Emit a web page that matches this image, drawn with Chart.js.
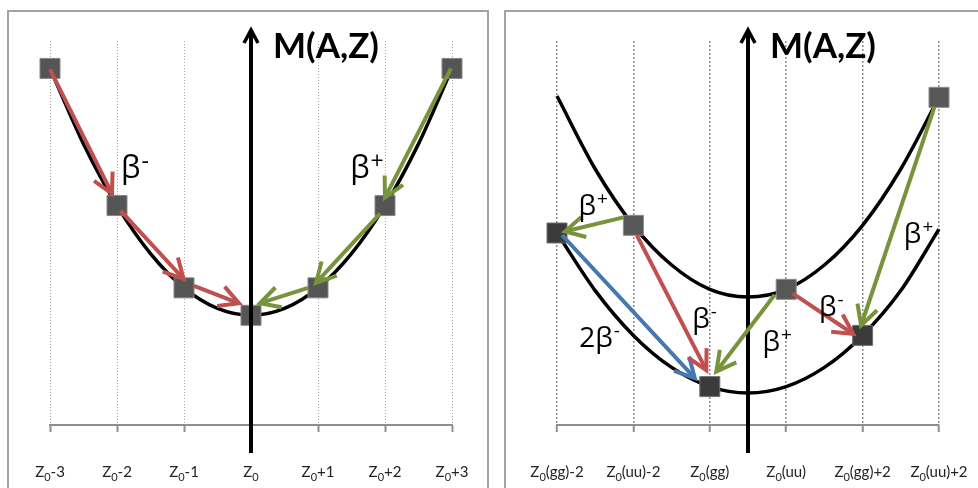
<!DOCTYPE html>
<html>
<head>
<meta charset="utf-8">
<script src="https://cdn.jsdelivr.net/npm/chart.js@4.4.1/dist/chart.umd.min.js"></script>
<style>
  html, body { margin: 0; padding: 0; background: #fff; }
  body { width: 978px; height: 488px; position: relative; overflow: hidden; }
  .frame { position: absolute; top: 10px; height: 520px; border: 2px solid #a3a3a3; border-bottom: none; box-sizing: border-box; }
  #frameL { left: 7px; width: 482px; }
  #frameR { left: 504px; width: 500px; }
  canvas { position: absolute; top: 0; }
  #cL { left: 0; }
  #cR { left: 490px; }
</style>
</head>
<body>
<div class="frame" id="frameL"></div>
<div class="frame" id="frameR"></div>
<canvas id="cL" width="490" height="488"></canvas>
<canvas id="cR" width="488" height="488"></canvas>
<script>
// ---------- Left: odd-A isobars, one mass parabola ----------
const leftZ = [-3, -2, -1, 0, 1, 2, 3];
const leftTickLabels = ['Z₀-3', 'Z₀-2', 'Z₀-1', 'Z₀', 'Z₀+1', 'Z₀+2', 'Z₀+3'];
const leftMass = [9, 4, 1, 0, 1, 4, 9];
const leftCurveZ = [-3, -2.5, -2, -1.5, -1, -0.5, 0, 0.5, 1, 1.5, 2, 2.5, 3];
const leftCurveMass = [9, 6.25, 4, 2.25, 1, 0.25, 0, 0.25, 1, 2.25, 4, 6.25, 9];

// ---------- Right: even-A isobars, gg and uu parabolas ----------
const rightZ = [0, 1, 2, 3, 4, 5];
const rightTickLabels = ['Z₀(gg)-2', 'Z₀(uu)-2', 'Z₀(gg)', 'Z₀(uu)', 'Z₀(gg)+2', 'Z₀(uu)+2'];
const ggZ = [0, 2, 4];
const ggMass = [6.25, 0.25, 2.25];
const uuZ = [1, 3, 5];
const uuMass = [6.55, 4.05, 11.55];
const rightCurveZ = [0, 0.5, 1, 1.5, 2, 2.5, 3, 3.5, 4, 4.5, 5];
const ggCurveMass = [6.25, 4.0, 2.25, 1.0, 0.25, 0, 0.25, 1.0, 2.25, 4.0, 6.4];
const uuCurveMass = [11.6, 8.75, 6.55, 5.0, 4.05, 3.75, 4.05, 5.0, 6.55, 8.75, 11.55];

const RED = '#c0504d', GREEN = '#77933c', BLUE = '#4677b0';

// decay arrows: from / to reference a named point; s / e nudge the ends (px)
const leftArrows = [
  { from: ['p', 0], to: ['p', 1], color: RED,   s: [0, 1],    e: [-5, -12] },
  { from: ['p', 1], to: ['p', 2], color: RED,   s: [3.5, 5],  e: [-0.5, -9] },
  { from: ['p', 2], to: ['p', 3], color: RED,   s: [10, -2],  e: [-12, -12] },
  { from: ['p', 6], to: ['p', 5], color: GREEN, s: [-1, 0],   e: [0, -8] },
  { from: ['p', 5], to: ['p', 4], color: GREEN, s: [-5, 8],   e: [-2, -5] },
  { from: ['p', 4], to: ['p', 3], color: GREEN, s: [-10, 0],  e: [9, -12] }
];
const rightArrows = [
  { from: ['uu', 0], to: ['gg', 0], color: GREEN, s: [-10, -8],   e: [8, -1.5] },
  { from: ['gg', 0], to: ['gg', 1], color: BLUE,  s: [5, 2],      e: [-15, -8.5] },
  { from: ['uu', 0], to: ['gg', 1], color: RED,   s: [3.5, 10],   e: [-3.5, -16.5] },
  { from: ['uu', 1], to: ['gg', 1], color: GREEN, s: [-11.5, 5.5], e: [6.5, -15] },
  { from: ['uu', 1], to: ['gg', 2], color: RED,   s: [6.5, 4],    e: [-9.5, -1.5] },
  { from: ['uu', 2], to: ['gg', 2], color: GREEN, s: [-4.5, 9.5], e: [-1.5, -10] }
];

// decay-mode labels, anchored (left, baseline) in data units
const leftLabels = [
  { text: 'β⁻', x: -1.94, y: 5.0 },
  { text: 'β⁺', x: 1.48, y: 5.0 }
];
const rightLabels = [
  { text: 'β⁺', x: 0.28, y: 6.95 },
  { text: '2β⁻', x: 0.29, y: 1.78 },
  { text: 'β⁻', x: 1.77, y: 2.55 },
  { text: 'β⁺', x: 2.69, y: 1.65 },
  { text: 'β⁻', x: 3.43, y: 3.0 },
  { text: 'β⁺', x: 4.54, y: 5.85 }
];

const FAMILY = 'Lato, "Open Sans", "DejaVu Sans", sans-serif';
const GREEK = '"Open Sans", Lato, "DejaVu Sans", sans-serif';

// text with ₀ drawn as subscript and ⁺ ⁻ as superscript
function parseRich(str) {
  const segs = [];
  for (const ch of str) {
    let kind = 'n', t = ch;
    if (ch === '₀') { kind = 'sub'; t = '0'; }
    else if (ch === '⁺') { kind = 'sup'; t = '+'; }
    else if (ch === '⁻') { kind = 'sup'; t = '-'; }
    const last = segs[segs.length - 1];
    if (last && last.kind === kind) last.t += t; else segs.push({ kind, t });
  }
  return segs;
}
function drawRich(ctx, str, x, y, st) {
  const segs = parseRich(str);
  const fam = st.family || FAMILY;
  const fontFor = k => `${st.weight || 'normal'} ${k === 'n' ? st.size : st.small}px ${fam}`;
  let total = 0;
  segs.forEach(s => {
    ctx.font = fontFor(s.kind);
    s.w = ctx.measureText(s.t).width;
    s.gap = s.kind === 'sup' ? (st.supGap || 0) : 0;
    total += s.w + s.gap;
  });
  let cx = st.align === 'center' ? x - total / 2 : x;
  ctx.fillStyle = st.color;
  ctx.textAlign = 'left';
  ctx.textBaseline = 'alphabetic';
  segs.forEach(s => {
    ctx.font = fontFor(s.kind);
    const dy = s.kind === 'sub' ? st.subDy : s.kind === 'sup' ? st.supDy : 0;
    cx += s.gap;
    ctx.fillText(s.t, cx, y + dy);
    cx += s.w;
  });
}

function drawArrow(ctx, x1, y1, x2, y2, color) {
  const ang = Math.atan2(y2 - y1, x2 - x1);
  const len = 22, spread = 28 * Math.PI / 180;
  ctx.save();
  ctx.strokeStyle = color;
  ctx.lineWidth = 4;
  ctx.lineCap = 'butt';
  ctx.beginPath();
  ctx.moveTo(x1, y1);
  ctx.lineTo(x2 - 2 * Math.cos(ang), y2 - 2 * Math.sin(ang));
  ctx.stroke();
  ctx.lineJoin = 'miter';
  ctx.beginPath();
  ctx.moveTo(x2 - len * Math.cos(ang - spread), y2 - len * Math.sin(ang - spread));
  ctx.lineTo(x2, y2);
  ctx.lineTo(x2 - len * Math.cos(ang + spread), y2 - len * Math.sin(ang + spread));
  ctx.stroke();
  ctx.restore();
}

function makeDecor(spec) {
  return {
    id: 'decor',
    afterDatasetsDraw(chart) {
      const { ctx, chartArea, scales: { x, y } } = chart;
      const px = v => x.getPixelForValue(v), py = v => y.getPixelForValue(v);
      ctx.save();
      // vertical mass axis with arrow head
      const ax = px(spec.axisAt);
      const tip = chartArea.top - 11;
      ctx.strokeStyle = '#000';
      ctx.lineWidth = 4;
      ctx.beginPath();
      ctx.moveTo(ax, chartArea.bottom + 28);
      ctx.lineTo(ax, tip + 2);
      ctx.stroke();
      ctx.lineWidth = 3.5;
      ctx.lineJoin = 'miter';
      ctx.beginPath();
      ctx.moveTo(ax - 7, tip + 13);
      ctx.lineTo(ax, tip);
      ctx.lineTo(ax + 7, tip + 13);
      ctx.stroke();
      // axis title
      ctx.fillStyle = '#000';
      ctx.font = `bold 35px ${FAMILY}`;
      ctx.textAlign = 'left';
      ctx.textBaseline = 'alphabetic';
      ctx.fillText('M(A,Z)', ax + 22, chartArea.top + 17);
      // decay arrows
      spec.arrows.forEach(a => {
        const f = spec.points[a.from[0]][a.from[1]];
        const t = spec.points[a.to[0]][a.to[1]];
        drawArrow(ctx,
          px(f.x) + a.s[0], py(f.y) + a.s[1],
          px(t.x) + a.e[0], py(t.y) + a.e[1], a.color);
      });
      // decay labels
      spec.labels.forEach(l => {
        drawRich(ctx, l.text, px(l.x), py(l.y), spec.labelStyle);
      });
      ctx.restore();
    },
    afterDraw(chart) {
      const { ctx, chartArea, scales: { x } } = chart;
      ctx.save();
      spec.tickValues.forEach((v, i) => {
        drawRich(ctx, spec.tickLabels[i], x.getPixelForValue(v), chartArea.bottom + 52, {
          size: 15, small: 11, subDy: 3.5, supDy: 0, color: '#222', align: 'center'
        });
      });
      ctx.restore();
    }
  };
}

function xy(xs, ys) { return xs.map((v, i) => ({ x: v, y: ys[i] })); }

function baseOptions(xMin, xMax, yMin, yMax, pad, gridStyle) {
  return {
    responsive: false,
    animation: false,
    devicePixelRatio: 1,
    events: [],
    layout: { padding: pad },
    plugins: { legend: { display: false }, tooltip: { enabled: false } },
    scales: {
      x: {
        type: 'linear', min: xMin, max: xMax,
        ticks: { stepSize: 1, display: false },
        grid: { color: gridStyle.color, lineWidth: gridStyle.width, drawTicks: true, tickLength: 7, tickColor: '#8f8f8f', tickWidth: 2 },
        border: { display: true, color: '#8f8f8f', width: 2, dash: gridStyle.dash },
        afterFit(scale) { scale.height = 63; }
      },
      y: { type: 'linear', min: yMin, max: yMax, display: false }
    }
  };
}

const curveStyle = { borderColor: '#000', pointRadius: 0, cubicInterpolationMode: 'monotone', fill: false, clip: false, order: 2 };
const markerStyle = { showLine: false, pointStyle: 'rect', pointRadius: 14.14, borderWidth: 1, clip: false, order: 0 };

// ---------- left chart ----------
const leftPoints = xy(leftZ, leftMass);
new Chart(document.getElementById('cL'), {
  type: 'line',
  data: {
    datasets: [
      Object.assign({ data: xy(leftCurveZ, leftCurveMass), borderWidth: 3.5 }, curveStyle),
      Object.assign({ data: leftPoints, pointBackgroundColor: '#555555', pointBorderColor: '#858585' }, markerStyle)
    ]
  },
  options: baseOptions(-3, 3, -4, 10, { left: 50, right: 38, top: 41, bottom: 0 }, { color: '#a8a8a8', width: 1, dash: [1, 2] }),
  plugins: [makeDecor({
    axisAt: 0,
    points: { p: leftPoints },
    arrows: leftArrows,
    labels: leftLabels,
    labelStyle: { size: 31, small: 23, supDy: -9, supGap: 1, color: '#000', family: GREEK },
    tickValues: leftZ,
    tickLabels: leftTickLabels
  })]
});

// ---------- right chart ----------
const ggPoints = xy(ggZ, ggMass);
const uuPoints = xy(uuZ, uuMass);
new Chart(document.getElementById('cR'), {
  type: 'line',
  data: {
    datasets: [
      Object.assign({ data: xy(rightCurveZ, uuCurveMass), borderWidth: 3.5 }, curveStyle),
      Object.assign({ data: xy(rightCurveZ, ggCurveMass), borderWidth: 3.5 }, curveStyle),
      Object.assign({ data: uuPoints, pointBackgroundColor: '#575757', pointBorderColor: '#8a8a8a' }, markerStyle),
      Object.assign({ data: ggPoints, pointBackgroundColor: '#3b3b3b', pointBorderColor: '#707070' }, markerStyle)
    ]
  },
  options: baseOptions(0, 5, -1.25, 13.75, { left: 67, right: 39, top: 41, bottom: 0 }, { color: '#8c8c8c', width: 1.5, dash: [2, 2] }),
  plugins: [makeDecor({
    axisAt: 2.5,
    points: { gg: ggPoints, uu: uuPoints },
    arrows: rightArrows,
    labels: rightLabels,
    labelStyle: { size: 28, small: 19, supDy: -10, supGap: 1, color: '#000', family: GREEK },
    tickValues: rightZ,
    tickLabels: rightTickLabels
  })]
});
</script>
</body>
</html>
